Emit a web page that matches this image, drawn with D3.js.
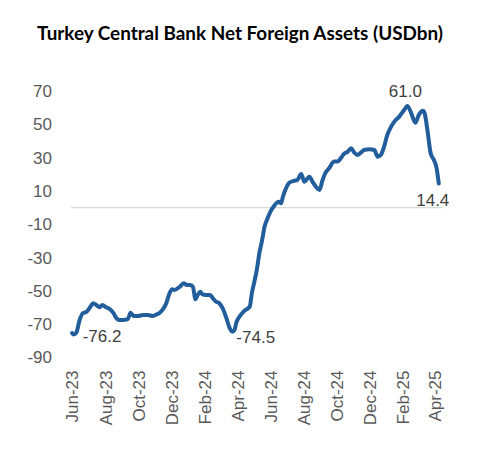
<!DOCTYPE html>
<html>
<head>
<meta charset="utf-8">
<script src="https://cdn.jsdelivr.net/npm/d3@7"></script>
<style>
  body { margin: 0; background: #fff; }
  svg text { font-family: "Liberation Sans", Arial, sans-serif; }
</style>
</head>
<body>
<svg id="chart" width="500" height="454"></svg>
<script>
// weekly-ish readings, USD bn
const dates = ["2023-06-01","2023-06-04","2023-06-09","2023-06-15","2023-06-21","2023-06-28","2023-07-05","2023-07-10","2023-07-16","2023-07-22","2023-07-27","2023-08-03","2023-08-10","2023-08-16","2023-08-22","2023-08-27","2023-09-03","2023-09-12","2023-09-17","2023-09-23","2023-10-01","2023-10-10","2023-10-19","2023-10-28","2023-11-05","2023-11-10","2023-11-16","2023-11-22","2023-11-28","2023-12-03","2023-12-07","2023-12-17","2023-12-24","2023-12-30","2024-01-05","2024-01-10","2024-01-15","2024-01-19","2024-01-24","2024-01-27","2024-02-03","2024-02-11","2024-02-16","2024-02-22","2024-02-28","2024-03-05","2024-03-12","2024-03-18","2024-03-23","2024-03-27","2024-03-30","2024-04-05","2024-04-14","2024-04-24","2024-04-28","2024-05-02","2024-05-07","2024-05-12","2024-05-17","2024-05-21","2024-05-27","2024-06-02","2024-06-08","2024-06-13","2024-06-17","2024-06-21","2024-06-24","2024-06-30","2024-07-06","2024-07-15","2024-07-21","2024-07-28","2024-08-03","2024-08-12","2024-08-18","2024-08-25","2024-08-31","2024-09-05","2024-09-11","2024-09-17","2024-09-27","2024-10-03","2024-10-09","2024-10-15","2024-10-22","2024-10-28","2024-11-03","2024-11-09","2024-11-15","2024-11-21","2024-12-01","2024-12-10","2024-12-16","2024-12-22","2024-12-28","2025-01-03","2025-01-10","2025-01-16","2025-01-25","2025-02-03","2025-02-09","2025-02-15","2025-02-24","2025-03-02","2025-03-10","2025-03-13","2025-03-18","2025-03-24","2025-03-30","2025-04-04","2025-04-08"];
const values = [-75.3,-76.2,-75.1,-67.5,-63.4,-62.5,-59.5,-57.4,-58.5,-59.8,-58.5,-59.8,-61.0,-63.1,-66.4,-67.5,-67.5,-67.0,-63.1,-65.1,-65.1,-64.5,-64.5,-65.1,-64.0,-63.1,-61.0,-57.4,-51.4,-49.0,-49.5,-47.5,-45.4,-46.5,-46.5,-47.5,-55.0,-52.5,-50.5,-51.9,-52.5,-52.5,-54.4,-56.5,-57.4,-60.4,-66.4,-72.4,-74.5,-73.5,-69.4,-65.5,-62.0,-59.5,-51.3,-45.4,-37.5,-27.0,-19.4,-12.0,-6.4,-2.0,1.0,2.9,3.5,2.6,6.2,11.6,14.9,16.1,16.6,20.2,15.5,18.5,15.5,12.2,10.6,16.0,21.0,23.4,27.6,27.6,29.6,32.2,33.6,35.6,33.0,31.6,33.0,34.6,35.0,34.6,30.6,31.6,36.6,43.6,48.6,51.6,54.6,58.6,61.0,57.6,51.0,55.6,58.2,56.6,46.6,32.6,28.6,23.6,14.4];

const yTicks = [70, 50, 30, 10, -10, -30, -50, -70, -90];
const xTickDates = ["2023-06-01","2023-08-01","2023-10-01","2023-12-01","2024-02-01","2024-04-01","2024-06-01","2024-08-01","2024-10-01","2024-12-01","2025-02-01","2025-04-01"];
const xTickLabels = ["Jun-23","Aug-23","Oct-23","Dec-23","Feb-24","Apr-24","Jun-24","Aug-24","Oct-24","Dec-24","Feb-25","Apr-25"];

// labelled points
const labelDates = ["2023-06-04", "2024-03-23", "2025-02-09", "2025-04-08"];
const labelValues = [-76.2, -74.5, 61.0, 14.4];

const parse = d3.timeParse("%Y-%m-%d");
const data = dates.map((d, i) => ({ date: parse(d), value: values[i] }));
// plain hyphen for negatives, like the original
const hyph = s => s.replace("\u2212", "-");

const svg = d3.select("svg#chart");

const x = d3.scaleTime()
    .domain([parse("2023-06-01"), parse("2025-04-01")])
    .range([72, 435]);
const y = d3.scaleLinear().domain([-90, 70]).range([357.5, 91]);

// title
const title = svg.append("text")
    .attr("x", 240)
    .attr("y", 39.5)
    .attr("text-anchor", "middle")
    .attr("font-weight", "bold")
    .attr("font-size", 18)
    .attr("fill", "#000")
    .style("font-family", "Lato, 'Liberation Sans', Arial, sans-serif")
    .text("Turkey Central Bank Net Foreign Assets (USDbn)");
const tw = title.node().getComputedTextLength();
title.attr("font-size", 18 * 406 / tw);

// zero line
svg.append("line")
    .attr("x1", x(parse("2023-05-30")))
    .attr("x2", x(parse("2025-04-15")))
    .attr("y1", y(0))
    .attr("y2", y(0))
    .attr("stroke", "#d9d9d9")
    .attr("stroke-width", 1.2);

// y axis
const leftAxis = d3.axisLeft(y).tickValues(yTicks).tickSize(0).tickPadding(19)
    .tickFormat(d => hyph(d3.format("d")(d)));
const yG = svg.append("g")
    .attr("class", "y axis")
    .attr("transform", `translate(${x(parse("2023-06-01")) - 1},0)`)
    .call(leftAxis);
yG.select(".domain").remove();
yG.selectAll("text")
    .attr("font-size", 17)
    .attr("fill", "#595959")
    .style("font-family", '"Liberation Sans", Arial, sans-serif');

// x axis
const bottomAxis = d3.axisBottom(x)
    .tickValues(xTickDates.map(parse))
    .tickFormat((d, i) => xTickLabels[i])
    .tickSize(0);
const xG = svg.append("g")
    .attr("class", "x axis")
    .attr("transform", `translate(0,${y(-90) + 13})`)
    .call(bottomAxis);
xG.select(".domain").remove();
xG.selectAll("text")
    .attr("font-size", 17)
    .attr("fill", "#595959")
    .style("font-family", '"Liberation Sans", Arial, sans-serif')
    .attr("text-anchor", "end")
    .attr("transform", "rotate(-90)")
    .attr("x", 0)
    .attr("y", 0)
    .attr("dy", "0.35em");

// line
const line = d3.line()
    .x(d => x(d.date))
    .y(d => y(d.value))
    .curve(d3.curveMonotoneX);
svg.append("path")
    .datum(data)
    .attr("fill", "none")
    .attr("stroke", "#215e9b")
    .attr("stroke-width", 4)
    .attr("stroke-linejoin", "round")
    .attr("stroke-linecap", "round")
    .attr("d", line);

// data labels
const labelOffsets = [
    { dx: 9, dy: 7, anchor: "start" },
    { dx: 4, dy: 11, anchor: "start" },
    { dx: -2, dy: -9, anchor: "middle" },
    { dx: -6, dy: 22, anchor: "middle" }
];
svg.selectAll("text.dlabel")
    .data(labelDates)
    .join("text")
    .attr("class", "dlabel")
    .attr("x", (d, i) => x(parse(d)) + labelOffsets[i].dx)
    .attr("y", (d, i) => y(labelValues[i]) + labelOffsets[i].dy)
    .attr("text-anchor", (d, i) => labelOffsets[i].anchor)
    .attr("font-size", 17)
    .attr("fill", "#404040")
    .text((d, i) => hyph(d3.format(".1f")(labelValues[i])));
</script>
</body>
</html>
